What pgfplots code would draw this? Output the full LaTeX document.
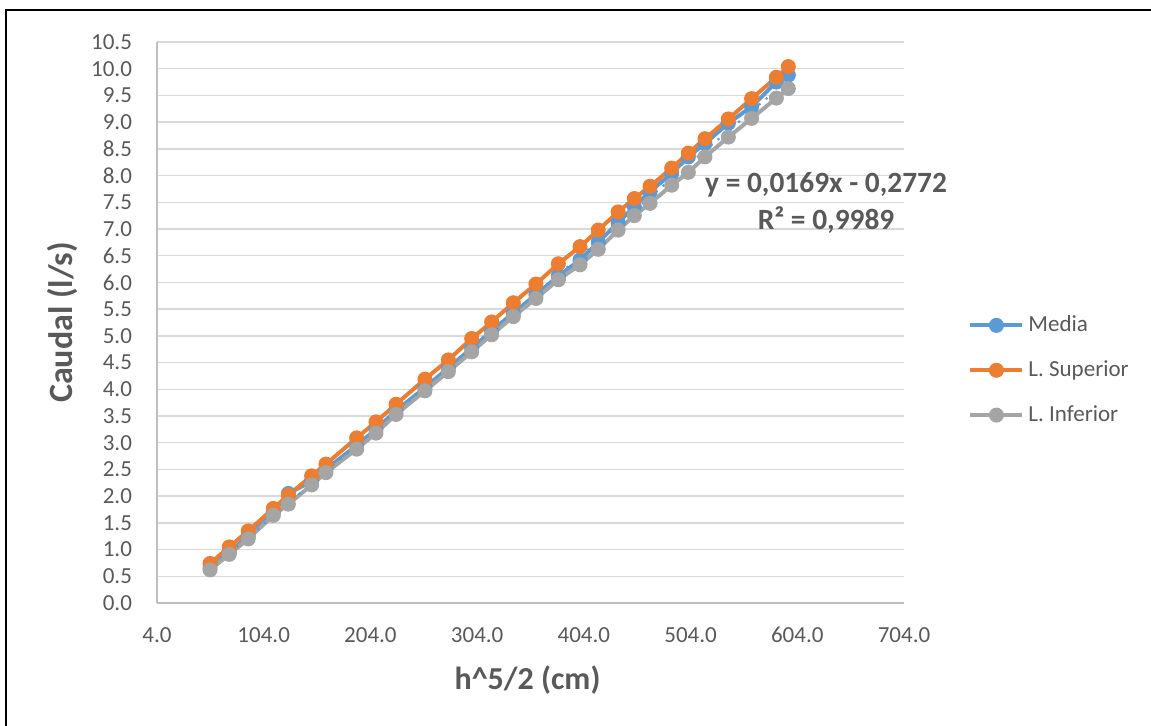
\documentclass[border=0pt]{standalone}
\usepackage{pgfplots}
\pgfplotsset{compat=1.18}
\usepackage{pgfplotstable}
\usepackage{fontspec}
\setmainfont{Carlito}

\definecolor{serblue}{HTML}{5B9BD5}
\definecolor{serorange}{HTML}{ED7D31}
\definecolor{sergray}{HTML}{A5A5A5}
\definecolor{txtgray}{HTML}{595959}
\definecolor{gridgray}{HTML}{D9D9D9}
\definecolor{axisgray}{HTML}{BFBFBF}

% h^(5/2) against flow: mean and upper / lower limits
\pgfplotstableread{
x      media  sup    inf
53.7   0.66   0.74   0.62
71.7   0.95   1.05   0.91
89.5   1.25   1.35   1.20
113.0  1.70   1.77   1.64
127.1  2.05   2.02   1.85
148.9  2.28   2.38   2.21
162.3  2.50   2.60   2.44
191.1  2.95   3.09   2.88
209.2  3.25   3.39   3.18
228.0  3.60   3.72   3.53
255.1  4.03   4.19   3.97
277.0  4.40   4.55   4.33
298.9  4.77   4.95   4.70
317.6  5.09   5.26   5.02
337.9  5.43   5.62   5.36
359.1  5.77   5.97   5.70
380.1  6.12   6.35   6.05
400.4  6.42   6.67   6.33
417.5  6.75   6.98   6.62
436.1  7.12   7.32   6.98
451.3  7.42   7.57   7.25
466.0  7.70   7.80   7.48
486.3  8.04   8.14   7.82
501.9  8.35   8.42   8.06
517.5  8.60   8.69   8.35
539.4  8.98   9.06   8.72
561.2  9.29   9.44   9.07
584.4  9.75   9.84   9.45
595.6  9.88   10.04  9.63
}\datos

\begin{document}
\begin{tikzpicture}
\useasboundingbox (0pt,0pt) rectangle (575.5pt,362.5pt);
\draw[black, line width=0.8pt] (3pt,-5pt) -- (3pt,357.5pt) -- (580pt,357.5pt);
\begin{axis}[
  at={(78.5pt,61pt)}, anchor=south west,
  scale only axis, width=373.5pt, height=280.5pt,
  clip=false,
  xmin=4, xmax=704, ymin=0, ymax=10.5,
  xtick={4,104,204,304,404,504,604,704},
  ytick={0,0.5,1,1.5,2,2.5,3,3.5,4,4.5,5,5.5,6,6.5,7,7.5,8,8.5,9,9.5,10,10.5},
  axis x line*=bottom, axis y line*=left,
  axis line style={axisgray, line width=0.75pt},
  ymajorgrids, grid style={gridgray, line width=0.75pt},
  major tick length=0pt, tick style={draw=none},
  ticklabel style={font=\fontsize{11.5}{13}\selectfont, text=txtgray},
  xticklabel style={yshift=-8.5pt},
  yticklabel style={xshift=-9pt},
  /pgf/number format/.cd, fixed, fixed zerofill, precision=1, assume math mode=true,
  /pgfplots/.cd,
  xlabel={h\textasciicircum 5/2 (cm)},
  ylabel={Caudal (l/s)},
  xlabel style={at={(axis description cs:0.496,-0.137)}, anchor=center,
    font=\bfseries\fontsize{16}{19}\selectfont, text=txtgray},
  ylabel style={at={(axis description cs:-0.127,0.5)}, anchor=center,
    font=\bfseries\fontsize{17}{20}\selectfont, text=txtgray},
  legend style={at={(axis description cs:1.0777,0.415)}, anchor=west,
    draw=none, fill=none, font=\fontsize{11.5}{13}\selectfont, text=txtgray,
    row sep=9pt},
  legend cell align=left,
  legend image code/.code={
    \draw[#1, mark repeat=2, mark phase=2]
      plot coordinates {(0pt,0pt) (13pt,0pt) (26pt,0pt)};},
]
\addplot[serblue, line width=2pt, mark=*, mark size=3.5pt,
  mark options={solid, fill=serblue, draw=serblue, line width=0.5pt}]
  table[x=x, y=media] {\datos};
\addlegendentry{Media}
\addplot[serorange, line width=2pt, mark=*, mark size=3.5pt,
  mark options={solid, fill=serorange, draw=serorange, line width=0.5pt}]
  table[x=x, y=sup] {\datos};
\addlegendentry{L. Superior}
\addplot[sergray, line width=2pt, mark=*, mark size=3.5pt,
  mark options={solid, fill=sergray, draw=sergray, line width=0.5pt}]
  table[x=x, y=inf] {\datos};
\addlegendentry{L. Inferior}
% linear trend of the mean: y = 0.0169x - 0.2772
\addplot[serblue, line width=1.5pt, dash pattern=on 0pt off 4.5pt,
  line cap=round, forget plot]
  coordinates {(53.7,0.630) (595.6,9.788)};
\node[font=\bfseries\fontsize{14.7}{18.5}\selectfont, text=txtgray, align=center]
  at (axis cs:631,7.49) {y = 0,0169x - 0,2772\\R² = 0,9989};
\end{axis}
\end{tikzpicture}
\end{document}
